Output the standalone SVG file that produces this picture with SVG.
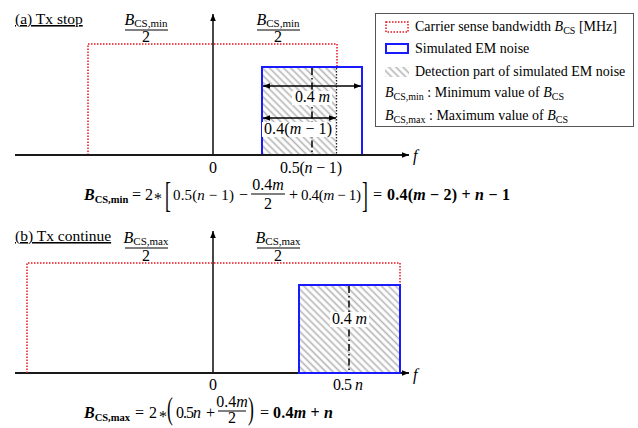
<svg xmlns="http://www.w3.org/2000/svg" width="638" height="428" viewBox="0 0 638 428">
<defs>
<pattern id="hatch" patternUnits="userSpaceOnUse" width="5" height="5" patternTransform="rotate(-45)">
<rect width="5" height="5" fill="#fff"/>
<line x1="2.5" y1="-1" x2="2.5" y2="6" stroke="#b4b4b4" stroke-width="1.6"/>
</pattern>
<marker id="ah" viewBox="0 0 10 10" refX="10" refY="5" markerWidth="7" markerHeight="7" orient="auto-start-reverse" markerUnits="userSpaceOnUse">
<path d="M0,1 L10,5 L0,9 z" fill="#000"/>
</marker>
</defs>
<style>
text { font-family: "Liberation Serif", "Times New Roman", serif; fill: #000; }
.t { font-size: 15.5px; text-decoration: underline; }
.lg { font-size: 14px; }
.m { font-size: 16px; }
.e { font-size: 15px; }
.i { font-style: italic; }
.b { font-weight: bold; }
.sb { font-size: 11px; }
.red { fill: none; stroke: #e8141e; stroke-width: 1.5; stroke-dasharray: 1.5 1.5; }
.blue { fill: url(#hatch); stroke: #1a1aff; stroke-width: 2; }
.blueL { fill: #fff; stroke: #1a1aff; stroke-width: 2; }
.axis { stroke: #1a1a1a; stroke-width: 2; fill: none; }
.vax { stroke: #1a1a1a; stroke-width: 1.6; fill: none; }
.dim { stroke: #000; stroke-width: 1.6; fill: none; marker-start: url(#ah); marker-end: url(#ah); }
.dd { stroke: #000; stroke-width: 1.5; fill: none; stroke-dasharray: 7 3 1.5 3; }
.dot { stroke: #222; stroke-width: 1.3; fill: none; stroke-dasharray: 1.5 1.5; }
.frac { stroke: #000; stroke-width: 1; }
.lbg { fill: #fff; }
</style>

<!-- Panel (a) -->
<g id="panel-a">
<text class="t" x="15" y="24">(a) Tx stop</text>
<g id="a-frac-left">
<text class="m" x="146" y="25" text-anchor="middle"><tspan class="i">B</tspan><tspan class="sb" dy="2">CS,min</tspan></text>
<line class="frac" x1="125" y1="30" x2="168" y2="30"/>
<text class="m" x="146" y="42" text-anchor="middle">2</text>
</g>
<g id="a-frac-right">
<text class="m" x="278" y="25" text-anchor="middle"><tspan class="i">B</tspan><tspan class="sb" dy="2">CS,min</tspan></text>
<line class="frac" x1="257" y1="30" x2="300" y2="30"/>
<text class="m" x="278" y="42" text-anchor="middle">2</text>
</g>
<g id="a-cs-band">
<path class="red" d="M88,155 V44 H337 V67"/>
</g>
<g id="a-noise">
<rect class="blueL" x="262" y="67" width="100" height="88"/>
<rect x="263" y="68" width="73" height="86" fill="url(#hatch)"/>
<line class="dot" x1="336.5" y1="68" x2="336.5" y2="155"/>
<line class="dd" x1="312" y1="68" x2="312" y2="155"/>
<line x1="262" y1="67" x2="362" y2="67" stroke="#1a1aff" stroke-width="2"/>
<line x1="262" y1="67" x2="262" y2="155" stroke="#1a1aff" stroke-width="2"/>
<line x1="362" y1="67" x2="362" y2="155" stroke="#1a1aff" stroke-width="2"/>
</g>
</g>

<g id="connectors">
<path class="axis" d="M15,155 H409" marker-end="url(#ah)"/>
<path class="vax" d="M213,155 V14" marker-end="url(#ah)"/>
<line class="dim" x1="263" y1="86" x2="361" y2="86"/>
<line class="dim" x1="263" y1="118" x2="336" y2="118"/>
<path class="axis" d="M15,373 H409" marker-end="url(#ah)"/>
<path class="vax" d="M213,373 V231" marker-end="url(#ah)"/>
<line class="dim" x1="300" y1="307" x2="399" y2="307"/>
</g>

<g id="a-labels">
<rect class="lbg" x="292" y="91" width="40" height="14"/>
<text class="m" x="295" y="102" textLength="35" lengthAdjust="spacing">0.4 <tspan class="i">m</tspan></text>
<rect class="lbg" x="262" y="122" width="73" height="15"/>
<text class="m" x="264" y="134" textLength="68" lengthAdjust="spacing">0.4(<tspan class="i">m</tspan> − 1)</text>
<text class="m" x="213" y="173" text-anchor="middle">0</text>
<text class="m" x="280" y="173" textLength="62" lengthAdjust="spacing">0.5(<tspan class="i">n</tspan> − 1)</text>
<text class="m i" x="413" y="161">f</text>
</g>

<g id="eq-a">
<text class="m" y="200"><tspan x="84" class="b i">B</tspan><tspan class="b" font-size="10.5" dy="3">CS,min</tspan></text>
<text class="m" x="132" y="200">=</text>
<text class="m" x="145" y="200">2</text>
<text class="m" x="154" y="204">*</text>
<text class="m" transform="translate(165,207) scale(1.1,2.3)">[</text>
<text class="e" x="173" y="200" textLength="61" lengthAdjust="spacing">0.5(<tspan class="i">n</tspan> − 1)</text>
<text class="m" x="239" y="200">−</text>
<text class="m" x="268" y="190" text-anchor="middle">0.4<tspan class="i">m</tspan></text>
<line class="frac" x1="251" y1="194" x2="285" y2="194"/>
<text class="m" x="268" y="209" text-anchor="middle">2</text>
<text class="m" x="289" y="200">+</text>
<text class="e" x="301" y="200" textLength="60" lengthAdjust="spacing">0.4(<tspan class="i">m</tspan> − 1)</text>
<text class="m" transform="translate(362,207) scale(1.1,2.3)">]</text>
<text class="m" x="373" y="200">=</text>
<text class="m b" x="387" y="200" textLength="123" lengthAdjust="spacing">0.4(<tspan class="i">m</tspan> − 2) + <tspan class="i">n</tspan> − 1</text>
</g>

<!-- Panel (b) -->
<g id="panel-b">
<text class="t" x="15" y="241">(b) Tx continue</text>
<g id="b-frac-left">
<text class="m" x="146" y="243" text-anchor="middle"><tspan class="i">B</tspan><tspan class="sb" dy="2">CS,max</tspan></text>
<line class="frac" x1="125" y1="248" x2="168" y2="248"/>
<text class="m" x="146" y="261" text-anchor="middle">2</text>
</g>
<g id="b-frac-right">
<text class="m" x="278" y="243" text-anchor="middle"><tspan class="i">B</tspan><tspan class="sb" dy="2">CS,max</tspan></text>
<line class="frac" x1="257" y1="248" x2="300" y2="248"/>
<text class="m" x="278" y="261" text-anchor="middle">2</text>
</g>
<g id="b-cs-band">
<path class="red" d="M27,373 V263 H400 V285"/>
</g>
<g id="b-noise">
<rect class="blue" x="299" y="285" width="101" height="88"/>
<line class="dd" x1="349" y1="286" x2="349" y2="373"/>
</g>
</g>

<g id="b-labels">
<rect class="lbg" x="330" y="312" width="39" height="15"/>
<text class="m" x="332" y="324" textLength="35" lengthAdjust="spacing">0.4 <tspan class="i">m</tspan></text>
<text class="m" x="213" y="390" text-anchor="middle">0</text>
<text class="m" x="333" y="390" textLength="30" lengthAdjust="spacing">0.5 <tspan class="i">n</tspan></text>
<text class="m i" x="413" y="380">f</text>
</g>

<g id="eq-b">
<text class="m" y="418"><tspan x="84" class="b i">B</tspan><tspan class="b" font-size="10.5" dy="3">CS,max</tspan></text>
<text class="m" x="135" y="418">=</text>
<text class="m" x="149" y="418">2</text>
<text class="m" x="159" y="422">*</text>
<text class="m" transform="translate(167,419) scale(1.1,2.0)">(</text>
<text class="m" x="176" y="418" textLength="25" lengthAdjust="spacing">0.5<tspan class="i">n</tspan></text>
<text class="m" x="206" y="418">+</text>
<text class="m" x="232" y="407" text-anchor="middle">0.4<tspan class="i">m</tspan></text>
<line class="frac" x1="218" y1="411" x2="246" y2="411"/>
<text class="m" x="232" y="423" font-size="15" text-anchor="middle">2</text>
<text class="m" transform="translate(248,419) scale(1.1,2.0)">)</text>
<text class="m" x="260" y="418">=</text>
<text class="m b" x="273" y="418" textLength="60" lengthAdjust="spacing">0.4<tspan class="i">m</tspan> + <tspan class="i">n</tspan></text>
</g>

<!-- Legend -->
<g id="legend">
<rect x="375.5" y="13.5" width="258" height="113" fill="#fff" stroke="#555" stroke-width="1"/>
<rect class="red" x="386" y="22" width="22" height="10"/>
<text class="lg" x="415" y="31">Carrier sense bandwidth <tspan class="i">B</tspan><tspan font-size="10" dy="3">CS</tspan><tspan dy="-3"> [MHz]</tspan></text>
<rect class="blueL" x="386" y="44" width="22" height="9"/>
<text class="lg" x="415" y="53">Simulated EM noise</text>
<rect x="385" y="67" width="24" height="10" fill="url(#hatch)"/>
<text class="lg" x="415" y="76">Detection part of simulated EM noise</text>
<text class="lg" x="385" y="97"><tspan class="i">B</tspan><tspan font-size="10" dy="3">CS,min</tspan><tspan dy="-3"> : Minimum value of </tspan><tspan class="i">B</tspan><tspan font-size="10" dy="3">CS</tspan></text>
<text class="lg" x="385" y="120"><tspan class="i">B</tspan><tspan font-size="10" dy="3">CS,max</tspan><tspan dy="-3"> : Maximum value of </tspan><tspan class="i">B</tspan><tspan font-size="10" dy="3">CS</tspan></text>
</g>
</svg>
